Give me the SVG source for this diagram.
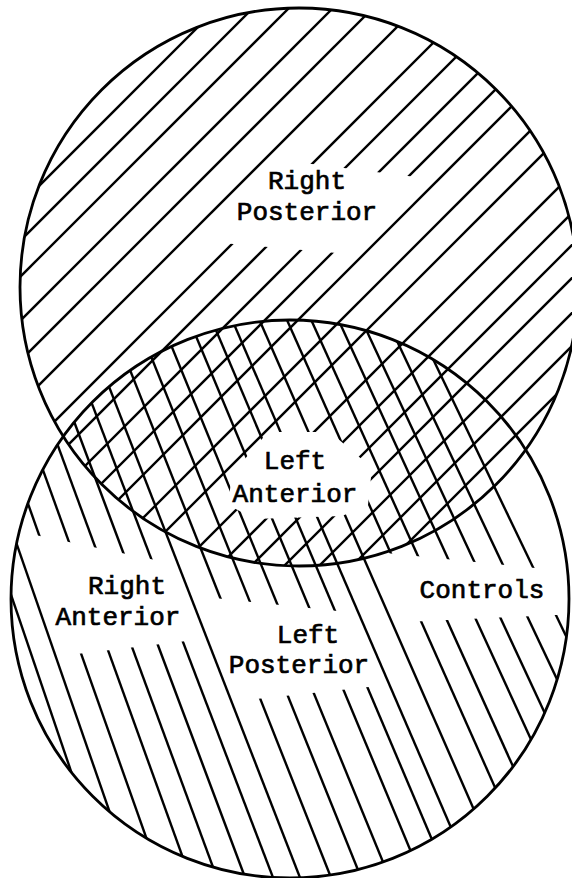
<svg xmlns="http://www.w3.org/2000/svg" width="572" height="878" viewBox="0 0 572 878">
<style>
.hatch{stroke:#000;stroke-width:2.4;fill:none}
.outline{fill:none;stroke:#000;stroke-width:2.8}
.knock{fill:#fff;stroke:none}
.label{font-family:"Liberation Mono","Courier New",monospace;font-size:26px;font-weight:normal;text-anchor:middle;fill:#000;stroke:#000;stroke-width:0.7}
</style>
<defs>
<clipPath id="clipTop"><circle cx="299" cy="287" r="279"/></clipPath>
<clipPath id="clipBottom"><circle cx="290" cy="599" r="279"/></clipPath>
</defs>
<rect x="0" y="0" width="572" height="878" fill="#fff"/>
<g id="hatch-top" class="hatch" clip-path="url(#clipTop)">
<line x1="235" y1="-10" x2="-395" y2="620"/>
<line x1="271" y1="-10" x2="-359" y2="620"/>
<line x1="307" y1="-10" x2="-323" y2="620"/>
<line x1="351" y1="-10" x2="-279" y2="620"/>
<line x1="391" y1="-10" x2="-239" y2="620"/>
<line x1="434" y1="-10" x2="-196" y2="620"/>
<line x1="486" y1="-10" x2="-144" y2="620"/>
<line x1="523" y1="-10" x2="-107" y2="620"/>
<line x1="561" y1="-10" x2="-69" y2="620"/>
<line x1="595" y1="-10" x2="-35" y2="620"/>
<line x1="628" y1="-10" x2="-2" y2="620"/>
<line x1="671" y1="-10" x2="41" y2="620"/>
<line x1="707" y1="-10" x2="77" y2="620"/>
<line x1="756" y1="-10" x2="126" y2="620"/>
<line x1="795" y1="-10" x2="165" y2="620"/>
<line x1="827" y1="-10" x2="197" y2="620"/>
<line x1="860" y1="-10" x2="230" y2="620"/>
<line x1="895" y1="-10" x2="265" y2="620"/>
<line x1="928" y1="-10" x2="298" y2="620"/>
<line x1="961" y1="-10" x2="331" y2="620"/>
</g>
<g id="hatch-bottom" class="hatch" clip-path="url(#clipBottom)">
<line x1="-89.2" y1="300" x2="114.8" y2="900"/>
<line x1="-68" y1="300" x2="140.2" y2="900"/>
<line x1="-44.1" y1="300" x2="168.3" y2="900"/>
<line x1="-18.4" y1="300" x2="198.2" y2="900"/>
<line x1="4.3" y1="300" x2="225.1" y2="900"/>
<line x1="28.5" y1="300" x2="253.5" y2="900"/>
<line x1="52.3" y1="300" x2="281.6" y2="900"/>
<line x1="75.3" y1="300" x2="308.7" y2="900"/>
<line x1="102.3" y1="300" x2="339.9" y2="900"/>
<line x1="128.3" y1="300" x2="370.1" y2="900"/>
<line x1="152.6" y1="300" x2="398.6" y2="900"/>
<line x1="180.9" y1="300" x2="431.1" y2="900"/>
<line x1="203.2" y1="300" x2="457.6" y2="900"/>
<line x1="223.6" y1="300" x2="482.2" y2="900"/>
<line x1="250.7" y1="300" x2="513.5" y2="900"/>
<line x1="278.1" y1="300" x2="545.1" y2="900"/>
<line x1="302.2" y1="300" x2="573.4" y2="900"/>
<line x1="329.3" y1="300" x2="604.7" y2="900"/>
<line x1="352.3" y1="300" x2="631.9" y2="900"/>
<line x1="377.6" y1="300" x2="661.4" y2="900"/>
<line x1="404.7" y1="300" x2="692.7" y2="900"/>
</g>
<g id="label-clearings" class="knock">
<polygon points="280,160 424,178 348,254 199,241"/>
<polygon points="268,432 330,432 372,468 368,505 342,516 255,519 228,505 232,474"/>
<polygon points="25.6,533 164.8,562 195.1,640 68.4,655"/>
<polygon points="205,597 347,612 378,686 246,700"/>
<polygon points="376,552 575,572 575,614 406,622"/>
</g>
<g id="circle-top">
<circle class="outline" cx="299" cy="287" r="279"/>
</g>
<g id="circle-bottom">
<circle class="outline" cx="290" cy="599" r="279"/>
</g>
<g id="node-right-posterior">
<text class="label" x="307" y="189">Right</text>
<text class="label" x="307" y="220">Posterior</text>
</g>
<g id="node-left-anterior">
<text class="label" x="295" y="469">Left</text>
<text class="label" x="295" y="502">Anterior</text>
</g>
<g id="node-right-anterior">
<text class="label" x="127" y="594">Right</text>
<text class="label" x="118" y="625">Anterior</text>
</g>
<g id="node-left-posterior">
<text class="label" x="308" y="643">Left</text>
<text class="label" x="299" y="673">Posterior</text>
</g>
<g id="node-controls">
<text class="label" x="482" y="598">Controls</text>
</g>
</svg>
